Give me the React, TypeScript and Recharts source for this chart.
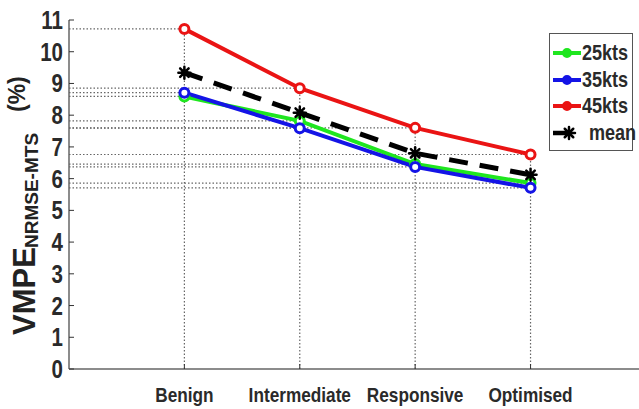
import { LineChart, Line, XAxis, YAxis, ReferenceLine } from 'recharts'

const categories = ['Benign', 'Intermediate', 'Responsive', 'Optimised']
const kts25 = [8.59, 7.82, 6.46, 5.86]
const kts35 = [8.71, 7.59, 6.37, 5.71]
const kts45 = [10.72, 8.85, 7.6, 6.76]
const meanVals = [9.34, 8.08, 6.8, 6.12]
const yTicks = [0, 1, 2, 3, 4, 5, 6, 7, 8, 9, 10, 11]

const FONT = "'Liberation Sans', Arial, sans-serif"
const NARROW = 0.82
const GRID = '#666'
const INK = '#2a2a2a'

const SERIES = [
  { key: 'k25', name: '25kts', color: '#1fe61f', values: kts25 },
  { key: 'k35', name: '35kts', color: '#1414e6', values: kts35 },
  { key: 'k45', name: '45kts', color: '#ea1414', values: kts45 },
]

const data = categories.map((c, i) => ({
  x: i + 1,
  name: c,
  k25: kts25[i],
  k35: kts35[i],
  k45: kts45[i],
  mean: meanVals[i],
}))

function CircleDot(color: string) {
  return (p: any) => {
    if (p.cx == null || p.cy == null) return <g key={p.index} />
    return <circle key={p.index} cx={p.cx} cy={p.cy} r={4.5} fill="#fff" stroke={color} strokeWidth={3} />
  }
}

function Star({ cx, cy, r = 6 }: { cx: number; cy: number; r?: number }) {
  const spokes = [0, 1, 2, 3, 4, 5, 6, 7].map(k => {
    const a = (k * Math.PI) / 4
    return (
      <line key={k} x1={cx} y1={cy} x2={cx + r * Math.cos(a)} y2={cy + r * Math.sin(a)}
        stroke="#000" strokeWidth={2.5} strokeLinecap="round" />
    )
  })
  return (
    <g>
      <circle cx={cx} cy={cy} r={r * 0.55} fill="#000" />
      {spokes}
    </g>
  )
}

function MeanDot(p: any) {
  if (p.cx == null || p.cy == null) return <g key={p.index} />
  return <g key={p.index}><Star cx={p.cx} cy={p.cy} /></g>
}

// condensed bold tick text, squeezed horizontally
function XTick({ x, y, payload }: any) {
  return (
    <g transform={`translate(${x},${y})`}>
      <text transform={`scale(${NARROW},1)`} textAnchor="middle" dy="0.71em" fontFamily={FONT}
        fontWeight="bold" fontSize={21} fill={INK}>
        {categories[payload.value - 1]}
      </text>
    </g>
  )
}

function YTick({ x, y, payload }: any) {
  return (
    <g transform={`translate(${x},${y})`}>
      <text transform={`scale(${NARROW},1)`} textAnchor="end" dy="0.36em" fontFamily={FONT}
        fontWeight="bold" fontSize={25} fill={INK}>
        {payload.value}
      </text>
    </g>
  )
}

// rotated axis title: VMPE with subscript and unit
function YLabel() {
  return (
    <g transform="rotate(-90, 33, 335)" fontFamily={FONT} fontWeight="bold" fill="#222">
      <text x={33} y={337} fontSize={31}>VMPE</text>
      <text x={120} y={340} fontSize={19}>NRMSE-MTS</text>
      <text x={256} y={327} fontSize={23}>(%)</text>
    </g>
  )
}

function LegendBox() {
  const items = [
    ...SERIES.map(s => ({ name: s.name, color: s.color, mean: false })),
    { name: 'mean', color: '#000', mean: true },
  ]
  return (
    <div style={{
      position: 'absolute', left: 549, top: 33, width: 84, height: 118,
      border: '1px solid #555', background: '#fff', boxSizing: 'border-box',
    }}>
      {items.map((it, i) => (
        <div key={it.name} style={{ position: 'absolute', left: 0, top: 7 + i * 26.7, width: 82, height: 24 }}>
          <svg width={30} height={24} style={{ position: 'absolute', left: 2, top: 0 }}>
            {it.mean ? (
              <>
                <line x1={1} y1={12} x2={14} y2={12} stroke="#000" strokeWidth={4.5} />
                <Star cx={17} cy={12} />
              </>
            ) : (
              <>
                <line x1={1} y1={12} x2={29} y2={12} stroke={it.color} strokeWidth={4} />
                <circle cx={15} cy={12} r={4} fill={it.color} stroke={it.color} strokeWidth={2} />
              </>
            )}
          </svg>
          <span style={{
            position: 'absolute', left: it.mean ? 39 : 32, top: 1,
            fontFamily: FONT, fontWeight: 'bold', fontSize: 22, color: INK, lineHeight: '22px',
            transform: `scaleX(${NARROW})`, transformOrigin: 'left center', whiteSpace: 'nowrap',
          }}>{it.name}</span>
        </div>
      ))}
    </div>
  )
}

export default function App() {
  return (
    <div style={{ position: 'relative', width: 639, height: 409, background: '#fff' }}>
      <style>{'body{margin:0}'}</style>
      <LineChart width={639} height={409} data={data} margin={{ top: 20, right: 0, bottom: 0, left: 0 }}>
        <XAxis
          type="number"
          dataKey="x"
          domain={[0, 4.94]}
          allowDataOverflow
          ticks={[1, 2, 3, 4]}
          height={40}
          tickSize={-5}
          tickMargin={23}
          axisLine={{ stroke: GRID, strokeWidth: 1.5 }}
          tickLine={{ stroke: '#333', strokeWidth: 1 }}
          tick={<XTick />}
          interval={0}
        />
        <YAxis
          domain={[0, 11]}
          ticks={yTicks}
          width={69}
          tickSize={-5}
          tickMargin={11}
          axisLine={{ stroke: GRID, strokeWidth: 1.5 }}
          tickLine={{ stroke: '#333', strokeWidth: 1 }}
          tick={<YTick />}
          interval={0}
          label={{ content: () => <YLabel /> }}
        />

        {/* dotted drop lines from each category up to the highest point */}
        {kts45.map((v, i) => (
          <ReferenceLine key={'v' + i} segment={[{ x: i + 1, y: 0 }, { x: i + 1, y: v }]}
            stroke={GRID} strokeWidth={1.2} strokeDasharray="1.5 2" ifOverflow="visible" />
        ))}
        {/* dotted lines from the y axis across to each speed point */}
        {SERIES.flatMap(s => s.values.map((v, i) => (
          <ReferenceLine key={s.key + i} segment={[{ x: 0, y: v }, { x: i + 1, y: v }]}
            stroke={GRID} strokeWidth={1.2} strokeDasharray="1.5 2" ifOverflow="visible" />
        )))}

        {SERIES.map(s => (
          <Line key={s.key} dataKey={s.key} name={s.name} stroke={s.color} strokeWidth={4}
            dot={CircleDot(s.color)} activeDot={false} isAnimationActive={false} />
        ))}
        <Line dataKey="mean" name="mean" stroke="#000" strokeWidth={5} strokeDasharray="19 12"
          dot={MeanDot} activeDot={false} isAnimationActive={false} />
      </LineChart>
      <LegendBox />
    </div>
  )
}
